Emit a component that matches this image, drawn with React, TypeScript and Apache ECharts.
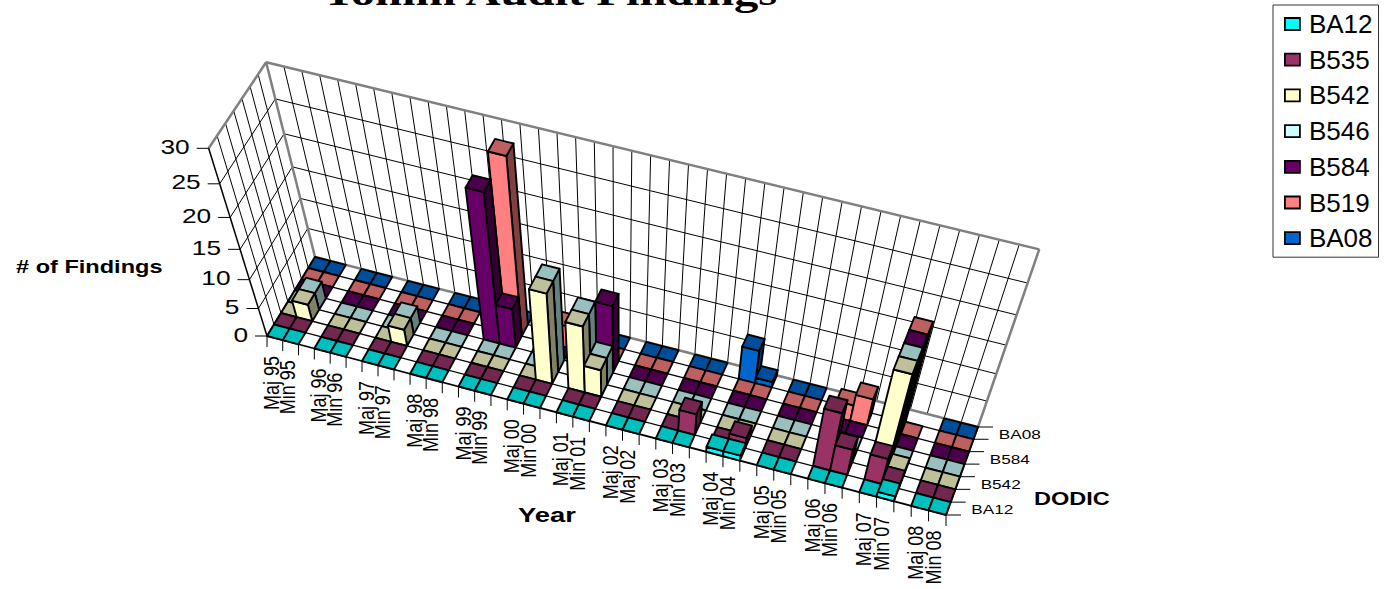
import React, { useEffect, useRef } from "react";
import * as echarts from "echarts";

const categories = [
  "Maj 95","Min 95","","Maj 96","Min 96","","Maj 97","Min 97","","Maj 98","Min 98","",
  "Maj 99","Min 99","","Maj 00","Min 00","","Maj 01","Min 01","","Maj 02","Maj 02","",
  "Maj 03","Min 03","","Maj 04","Min 04","","Maj 05","Min 05","","Maj 06","Min 06","",
  "Maj 07","Min 07","","Maj 08","Min 08",
];
const _ = null;
const BA12 = [0,0,_, 0,0,_, 0,0,_, 0,0,_, 0,0,_, 0,0,_, 0,0,_, 0,0,_, 0,0,_, 1,1,_, 0,0,_, 0,0,_, 0,1,_, 0,0];
const B535 = [0,0,_, 0,0,_, 0,0,_, 0,0,_, 0,0,_, 0,0,_, 0,0,_, 0,0,_, 0,4,_, 0,2,_, 0,0,_, 11,5,_, 5,1,_, 0,0];
const B542 = [0,3,_, 0,0,_, 0,3,_, 0,0,_, 0,0,_, 0,16,_, 12,5,_, 0,0,_, 0,0,_, 0,0,_, 0,0,_, 0,0,_, 18,1,_, 0,0];
const B546 = [0,3,_, 0,0,_, 0,3,_, 0,0,_, 0,0,_, 0,16,_, 12,5,_, 0,0,_, 0,0,_, 0,0,_, 0,0,_, 0,0,_, 18,0,_, 0,0];
const B584 = [0,0,_, 0,0,_, 0,0,_, 0,0,_, 25,7,_, 0,0,_, 0,12,_, 0,0,_, 0,0,_, 0,0,_, 0,0,_, 0,0,_, 18,0,_, 0,0];
const B519 = [0,0,_, 0,0,_, 0,0,_, 0,0,_, 0,29,_, 0,4,_, 0,0,_, 0,0,_, 0,0,_, 0,0,_, 0,0,_, 3,5,_, 18,0,_, 0,0];
const BA08 = [0,0,_, 0,0,_, 0,0,_, 0,0,_, 0,0,_, 0,0,_, 0,0,_, 0,0,_, 0,0,_, 6,1,_, 0,0,_, _,_,_, _,_,_, 0,0];
const seriesNames = ["BA12","B535","B542","B546","B584","B519","BA08"];
const seriesValues = [BA12,B535,B542,B546,B584,B519,BA08];
const frontColors = ["#00FFFF","#993366","#FFFFCC","#CCFFFF","#660066","#FF8080","#0066CC"];
const topColors = ["#00BFBF","#732650","#BFBF99","#99BFBF","#4C004C","#BF6060","#004D99"];
const sideColors = ["#008080","#4D1A33","#808066","#668080","#330033","#804040","#003366"];
const valueTicks = [0,5,10,15,20,25,30];
const seriesTickLabels = ["BA12","","B542","","B584","","BA08"];
const valueMax = 30;

// Chart box corners on the page
const FL: number[] = [267,336], BL: number[] = [315,257], BR: number[] = [978,427], FR: number[] = [946,515];
const TF: number[] = [209,147], TL: number[] = [266,62], TR: number[] = [1039,251];

function floorHomography() {
  const [x0,y0]=FL,[x1,y1]=FR,[x2,y2]=BR,[x3,y3]=BL;
  const dx1=x1-x2,dx2=x3-x2,sx=x0-x1+x2-x3,dy1=y1-y2,dy2=y3-y2,sy=y0-y1+y2-y3;
  const det=dx1*dy2-dx2*dy1;
  const g=(sx*dy2-dx2*sy)/det,h=(dx1*sy-sx*dy1)/det;
  return {a:x1-x0+g*x1,b:x3-x0+h*x3,d:x0,e:y1-y0+g*y1,f:y3-y0+h*y3,k:y0,g,h};
}
const H = floorHomography();
function solveLift() {
  const rows: number[][] = [];
  const add=(x:number,y:number,p:number[])=>{
    const den=H.g*x+H.h*y+1,nu=H.a*x+H.b*y+H.d,nv=H.e*x+H.f*y+H.k;
    rows.push([1,0,-p[0],p[0]*den-nu]);
    rows.push([0,1,-p[1],p[1]*den-nv]);
  };
  add(0,0,TF);add(0,1,TL);add(1,1,TR);
  const A=[[0,0,0,0],[0,0,0,0],[0,0,0,0]];
  rows.forEach(r=>{for(let i=0;i<3;i++){for(let j=0;j<3;j++)A[i][j]+=r[i]*r[j];A[i][3]+=r[i]*r[3];}});
  for(let i=0;i<3;i++){
    const p=A[i][i];
    for(let j=i;j<4;j++)A[i][j]/=p;
    for(let k=0;k<3;k++)if(k!==i){const m=A[k][i];for(let j=i;j<4;j++)A[k][j]-=m*A[i][j];}
  }
  return [A[0][3],A[1][3],A[2][3]];
}
const lift = solveLift();
const nCat = categories.length, nRow = seriesNames.length;
function project(c:number,r:number,v:number):number[]{
  const x=c/nCat,y=r/nRow,z=v/valueMax;
  const w=H.g*x+H.h*y+1+z*lift[2];
  return [(H.a*x+H.b*y+H.d+z*lift[0])/w,(H.e*x+H.f*y+H.k+z*lift[1])/w];
}

function line(p:number[],q:number[],stroke:string,lineWidth:number){
  return {type:"line",shape:{x1:p[0],y1:p[1],x2:q[0],y2:q[1]},style:{stroke,lineWidth},silent:true};
}
function wallsRender(){
  const kids:any[]=[];
  const grid="#000", edge="#808080";
  for(const t of valueTicks){
    if(t>0){
      kids.push(line(project(0,0,t),project(0,nRow,t),grid,1));
      kids.push(line(project(0,nRow,t),project(nCat,nRow,t),grid,1));
    }
  }
  for(let c=1;c<nCat;c++)kids.push(line(project(c,nRow,0),project(c,nRow,valueMax),grid,1));
  for(let r=1;r<nRow;r++)kids.push(line(project(0,r,0),project(0,r,valueMax),grid,1));
  for(let r=1;r<nRow;r++)kids.push(line(project(0,r,0),project(nCat,r,0),grid,1.3));
  kids.push(line(project(0,nRow,0),project(0,nRow,valueMax),edge,2.5));
  kids.push(line(project(0,nRow,0),project(nCat,nRow,0),edge,2.5));
  kids.push(line(project(nCat,nRow,0),project(nCat,nRow,valueMax),edge,2.5));
  kids.push(line(project(0,nRow,valueMax),project(nCat,nRow,valueMax),edge,2.5));
  kids.push(line(project(0,0,valueMax),project(0,nRow,valueMax),edge,2.5));
  kids.push(line(project(0,0,0),project(0,0,valueMax),"#000",1.5));
  kids.push(line(project(0,0,0),project(nCat,0,0),"#000",1.8));
  kids.push(line(project(nCat,0,0),project(nCat,nRow,0),"#000",1.8));
  kids.push(line(project(0,0,0),project(0,nRow,0),"#000",1.8));
  for(const t of valueTicks){const p=project(0,0,t);kids.push(line(p,[p[0]-12,p[1]],"#000",1));}
  for(let c=0;c<=nCat;c++){const p=project(c,0,0);kids.push(line(p,[p[0],p[1]+11],"#000",1));}
  for(let r=0;r<=nRow;r++){const p=project(nCat,r,0);kids.push(line(p,[p[0]+15,p[1]],"#000",1));}
  return {type:"group",children:kids};
}
function poly(points:number[][],fill:string){
  return {type:"polygon",shape:{points},style:{fill,stroke:"#000",lineWidth:1.9,lineJoin:"round"}};
}
function barRender(row:number){
  return (_p:any,api:any)=>{
    const c=api.value(0),v=api.value(1);
    const b=[project(c,row,0),project(c+1,row,0),project(c+1,row+1,0),project(c,row+1,0)];
    const t=[project(c,row,v),project(c+1,row,v),project(c+1,row+1,v),project(c,row+1,v)];
    const kids:any[]=[];
    if(v>0){
      kids.push(poly([b[1],b[2],t[2],t[1]],sideColors[row]));
      kids.push(poly([b[0],b[1],t[1],t[0]],frontColors[row]));
    }
    kids.push(poly(t,topColors[row]));
    return {type:"group",children:kids};
  };
}
const sansFont="'Liberation Sans', Arial, sans-serif";
function txt(text:string,x:number,y:number,size:number,scaleX:number,opts:any={}){
  return {type:"text",x,y,scaleX,scaleY:opts.scaleY||1,rotation:opts.rotation||0,silent:true,style:{text,fill:"#000",
    font:`${opts.bold?"bold ":""}${size}px ${opts.family||sansFont}`,
    textAlign:opts.align||"left",textVerticalAlign:"middle"}};
}
function buildGraphics(){
  const g:any[]=[];
  g.push(txt("Tomm Audit Findings",550,-7,36,1.35,{bold:true,align:"center",family:"'Liberation Serif', serif"}));
  valueTicks.forEach(t=>{const p=project(0,0,t);g.push(txt(String(t),p[0]-19,p[1]-2,21,1.25,{align:"right"}));});
  categories.forEach((l,c)=>{
    if(!l)return;
    const p=project(c,0,0);
    g.push(txt(l,p[0]+4.5,p[1]+20,18,1,{rotation:Math.PI/2,align:"right",scaleY:1.2}));
  });
  seriesTickLabels.forEach((l,r)=>{
    if(!l)return;
    const p=project(nCat,r+0.5,0);
    g.push(txt(l,p[0]+23,p[1]+1,13,1.32,{}));
  });
  g.push(txt("# of Findings",16,267,19,1.24,{bold:true}));
  g.push(txt("Year",518,515,20,1.37,{bold:true}));
  g.push(txt("DODIC",1034,499,19,1.24,{bold:true}));
  return g;
}

export default function App(){
  const ref=useRef<HTMLDivElement>(null);
  useEffect(()=>{
    const chart=echarts.init(ref.current!,undefined,{renderer:"svg"});
    const bars=seriesNames.map((name,row)=>({
      type:"custom",name,coordinateSystem:"none",clip:false,silent:true,
      itemStyle:{color:frontColors[row],borderColor:"#000",borderWidth:1.5},
      renderItem:barRender(row),
      encode:{x:0,y:1},
      data:seriesValues[row].map((v,c)=>[c,v]).filter(d=>d[1]!==null),
    })).reverse();
    chart.setOption({
      animation:false,
      backgroundColor:"#fff",
      legend:{
        data:seriesNames.map(name=>({name,icon:"rect"})),orient:"vertical",left:1273,top:5,
        itemWidth:15,itemHeight:12,itemGap:9.7,selectedMode:false,
        padding:[6,6,6,11],borderColor:"#333",borderWidth:1,backgroundColor:"#fff",
        textStyle:{fontFamily:sansFont,fontSize:26,color:"#000",padding:[0,0,0,4]},
        itemStyle:{borderColor:"#000",borderWidth:1.8},
      },
      graphic:buildGraphics(),
      series:[
        {type:"custom",name:"walls",coordinateSystem:"none",silent:true,clip:false,renderItem:wallsRender,data:[[0]]},
        ...bars,
      ],
    });
    return ()=>chart.dispose();
  },[]);
  return <div ref={ref} style={{position:"absolute",left:0,top:0,width:1384,height:589}}/>;
}
